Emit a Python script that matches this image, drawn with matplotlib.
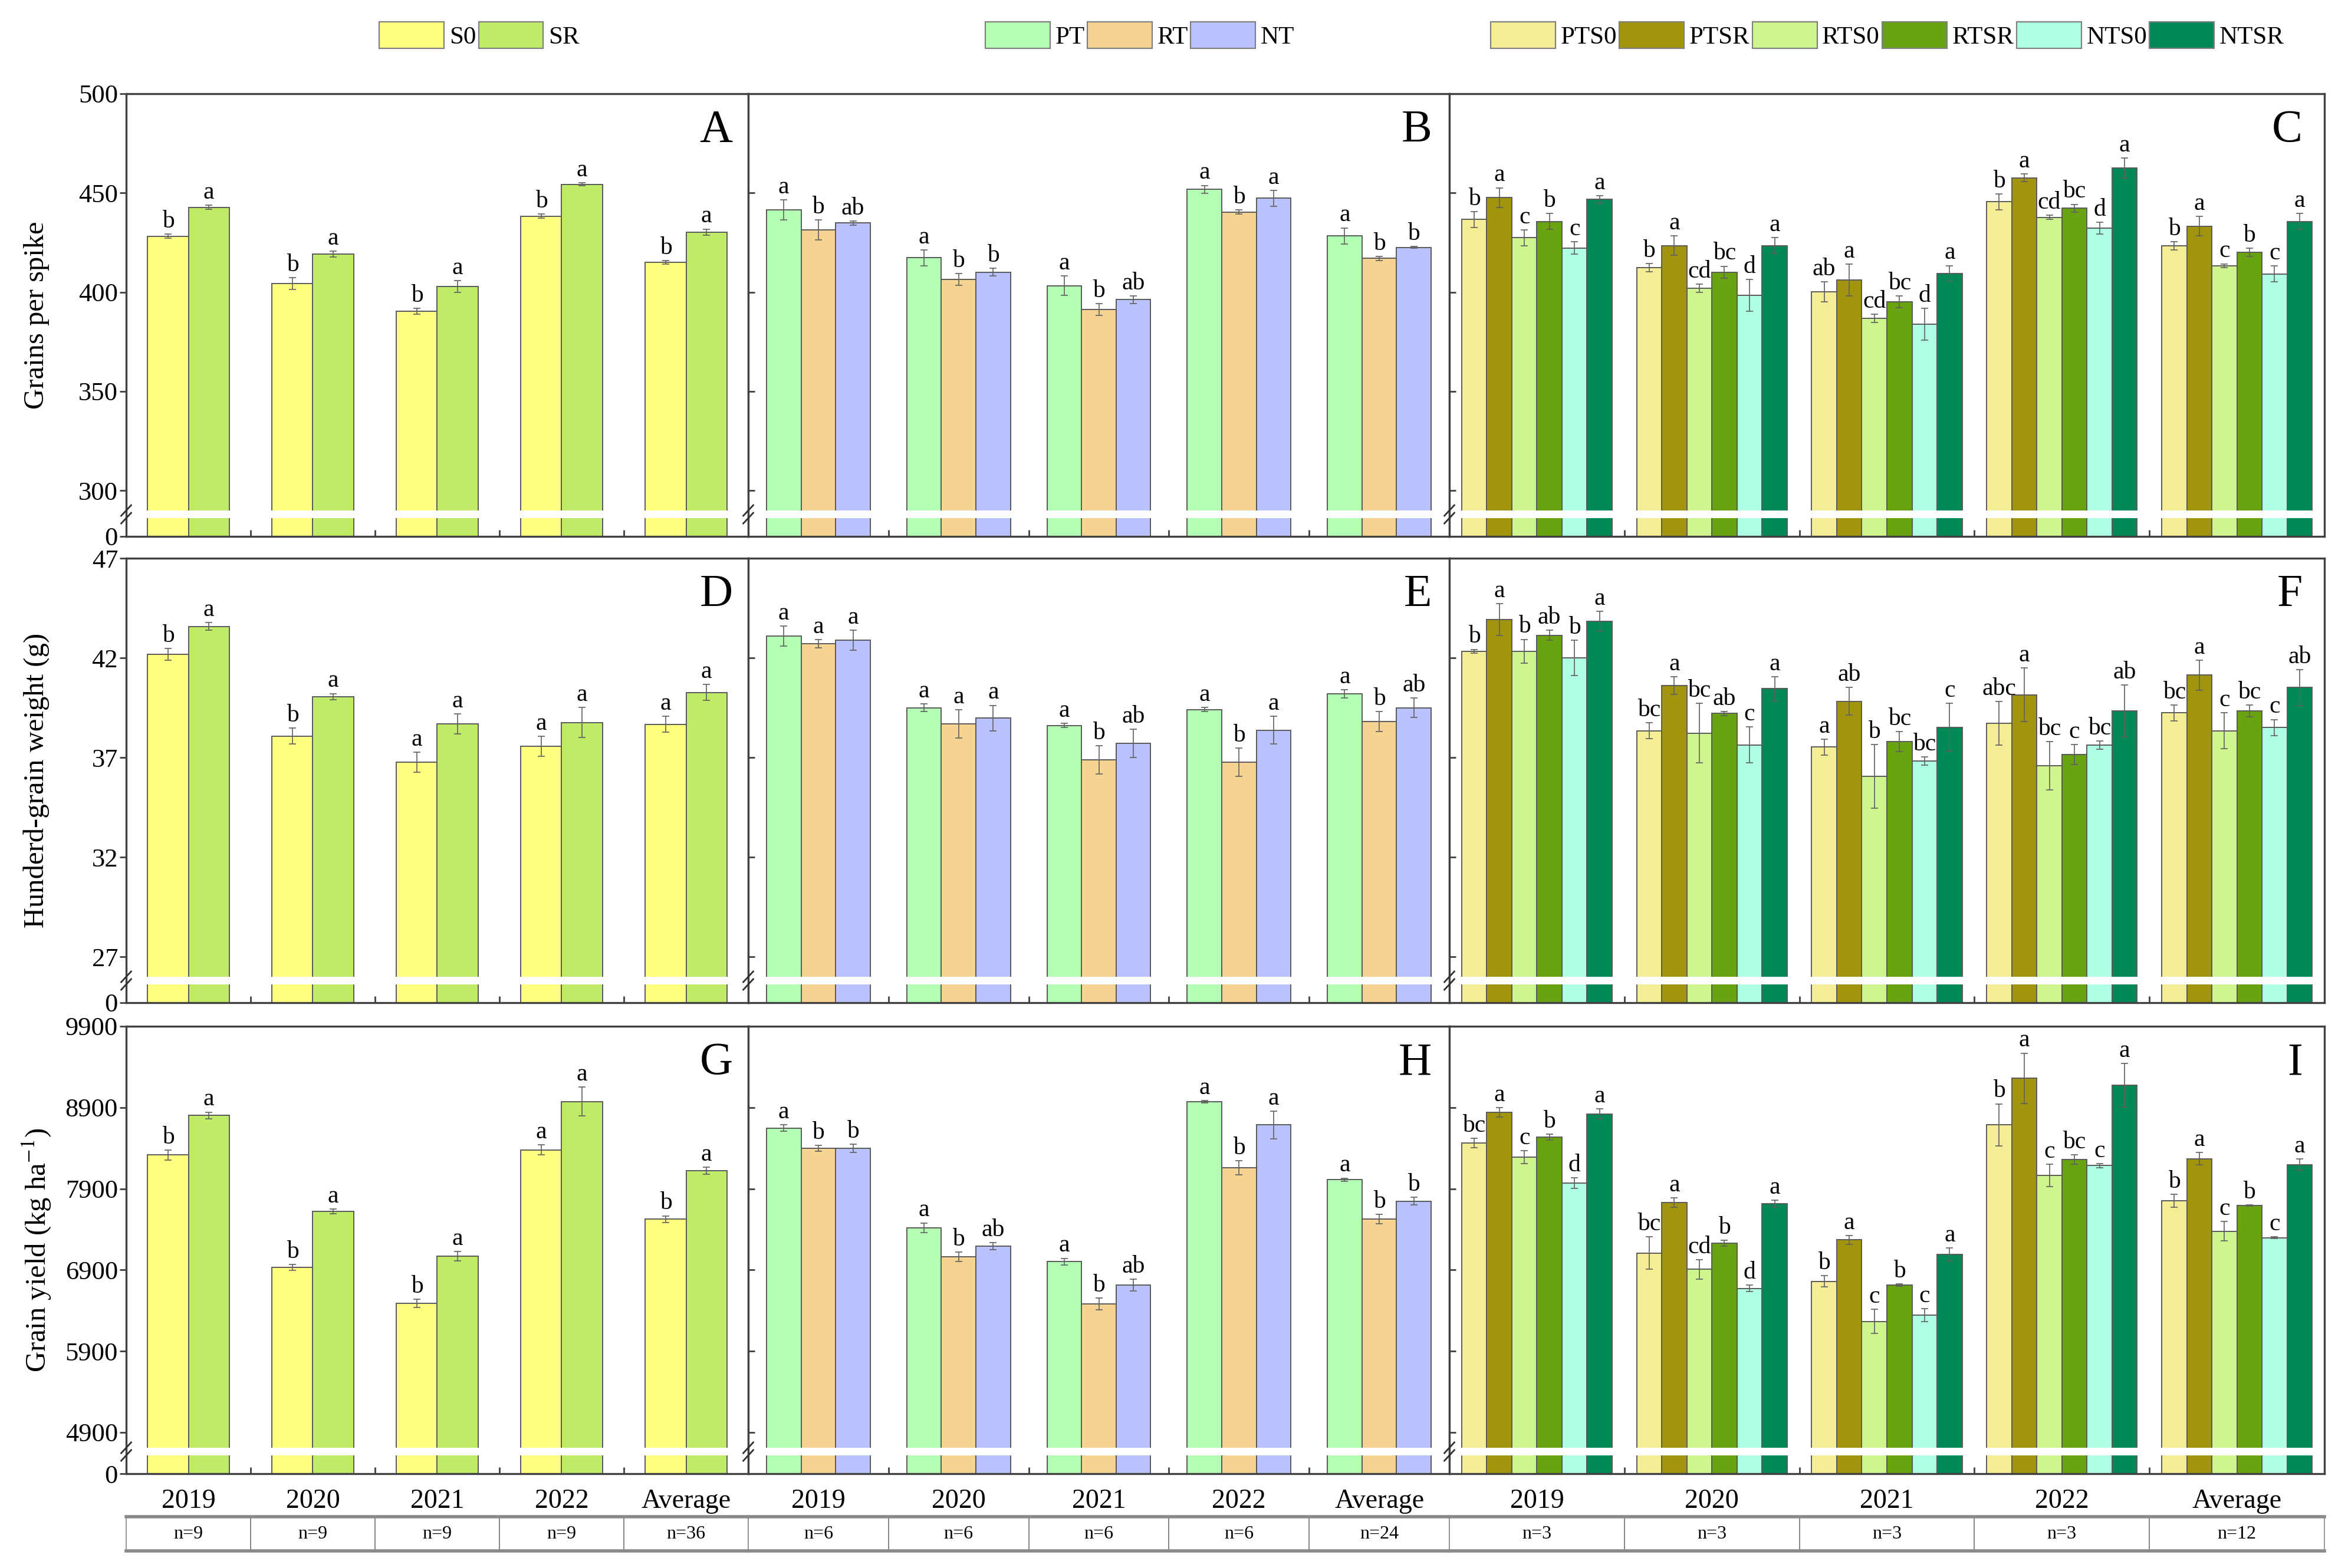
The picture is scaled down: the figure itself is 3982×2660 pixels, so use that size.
import numpy as np
import matplotlib.pyplot as plt
from matplotlib.patches import Patch

plt.rcParams['font.family'] = ['Liberation Serif', 'DejaVu Serif']
plt.rcParams['mathtext.fontset'] = 'stix'

years = ["2019", "2020", "2021", "2022", "Average"]
n_straw = ["n=9", "n=9", "n=9", "n=9", "n=36"]
n_till = ["n=6", "n=6", "n=6", "n=6", "n=24"]
n_combo = ["n=3", "n=3", "n=3", "n=3", "n=12"]

straw_names = ["S0", "SR"]
till_names = ["PT", "RT", "NT"]
combo_names = ["PTS0", "PTSR", "RTS0", "RTSR", "NTS0", "NTSR"]

straw_colors = ["#FFFF80", "#BFEB66"]
till_colors = ["#B3FFB3", "#F5D491", "#BAC2FF"]
combo_colors = ["#F5ED94", "#A39410", "#CFF58F", "#6AA312", "#AEFFE6", "#008957"]

# ---- grains per spike
gps_S0 = [428.2, 404.3, 390.4, 438.3, 415.0]
gps_SR = [442.8, 419.1, 402.9, 454.4, 430.3]
gps_S0_err = [1.0, 3.0, 1.5, 1.0, 0.8]
gps_SR_err = [1.0, 1.5, 3.0, 0.8, 1.5]
gps_S0_sig = ["b", "b", "b", "b", "b"]
gps_SR_sig = ["a", "a", "a", "a", "a"]

gps_PT = [441.4, 417.3, 403.3, 451.8, 428.4]
gps_RT = [431.4, 406.4, 391.3, 440.4, 417.0]
gps_NT = [434.9, 410.1, 396.2, 447.4, 422.6]
gps_PT_err = [5, 4, 5, 2, 4]
gps_RT_err = [5, 3, 3, 1, 1]
gps_NT_err = [1, 2, 2, 4, 0.5]
gps_PT_sig = ["a", "a", "a", "a", "a"]
gps_RT_sig = ["b", "b", "b", "b", "b"]
gps_NT_sig = ["ab", "b", "ab", "a", "b"]

gps_PTS0 = [436.7, 412.4, 400.1, 445.5, 423.3]
gps_PTSR = [447.6, 423.5, 406.2, 457.6, 433.3]
gps_RTS0 = [427.4, 402.0, 386.9, 437.7, 413.3]
gps_RTSR = [435.6, 410.1, 395.2, 442.3, 420.1]
gps_NTS0 = [422.3, 398.3, 383.9, 432.3, 409.2]
gps_NTSR = [446.7, 423.5, 409.4, 462.5, 435.6]
gps_PTS0_err = [4, 2, 5, 4, 2]
gps_PTSR_err = [5, 5, 8, 2, 5]
gps_RTS0_err = [4, 2, 2, 1, 1]
gps_RTSR_err = [4, 3, 3, 2, 2]
gps_NTS0_err = [3, 8, 8, 3, 4]
gps_NTSR_err = [2, 4, 4, 5, 4]
gps_PTS0_sig = ["b", "b", "ab", "b", "b"]
gps_PTSR_sig = ["a", "a", "a", "a", "a"]
gps_RTS0_sig = ["c", "cd", "cd", "cd", "c"]
gps_RTSR_sig = ["b", "bc", "bc", "bc", "b"]
gps_NTS0_sig = ["c", "d", "d", "d", "c"]
gps_NTSR_sig = ["a", "a", "a", "a", "a"]

# ---- hundred-grain weight
hgw_S0 = [42.17, 38.08, 36.77, 37.56, 38.66]
hgw_SR = [43.58, 40.06, 38.69, 38.76, 40.27]
hgw_S0_err = [0.3, 0.4, 0.5, 0.5, 0.4]
hgw_SR_err = [0.2, 0.15, 0.5, 0.75, 0.4]
hgw_S0_sig = ["b", "b", "a", "a", "a"]
hgw_SR_sig = ["a", "a", "a", "a", "a"]

hgw_PT = [43.10, 39.50, 38.61, 39.41, 40.19]
hgw_RT = [42.71, 38.69, 36.88, 36.77, 38.81]
hgw_NT = [42.89, 38.97, 37.71, 38.37, 39.50]
hgw_PT_err = [0.5, 0.2, 0.1, 0.1, 0.2]
hgw_RT_err = [0.2, 0.7, 0.7, 0.7, 0.5]
hgw_NT_err = [0.5, 0.65, 0.7, 0.7, 0.5]
hgw_PT_sig = ["a", "a", "a", "a", "a"]
hgw_RT_sig = ["a", "a", "b", "b", "b"]
hgw_NT_sig = ["a", "a", "ab", "a", "ab"]

hgw_PTS0 = [42.33, 38.34, 37.53, 38.72, 39.24]
hgw_PTSR = [43.93, 40.61, 39.82, 40.15, 41.13]
hgw_RTS0 = [42.33, 38.23, 36.05, 36.59, 38.34]
hgw_RTSR = [43.13, 39.21, 37.81, 37.14, 39.33]
hgw_NTS0 = [42.00, 37.63, 36.83, 37.63, 38.51]
hgw_NTSR = [43.84, 40.45, 38.52, 39.33, 40.52]
hgw_PTS0_err = [0.1, 0.4, 0.4, 1.1, 0.4]
hgw_PTSR_err = [0.8, 0.45, 0.7, 1.35, 0.75]
hgw_RTS0_err = [0.6, 1.5, 1.6, 1.2, 0.9]
hgw_RTSR_err = [0.25, 0.1, 0.5, 0.5, 0.3]
hgw_NTS0_err = [0.9, 0.9, 0.2, 0.2, 0.4]
hgw_NTSR_err = [0.5, 0.6, 1.2, 1.3, 0.9]
hgw_PTS0_sig = ["b", "bc", "a", "abc", "bc"]
hgw_PTSR_sig = ["a", "a", "ab", "a", "a"]
hgw_RTS0_sig = ["b", "bc", "b", "bc", "c"]
hgw_RTSR_sig = ["ab", "ab", "bc", "c", "bc"]
hgw_NTS0_sig = ["b", "c", "bc", "bc", "c"]
hgw_NTSR_sig = ["a", "a", "c", "ab", "ab"]

# ---- grain yield
gy_S0 = [8315, 6933, 6489, 8378, 7526]
gy_SR = [8804, 7619, 7070, 8974, 8122]
gy_S0_err = [60, 35, 50, 60, 40]
gy_SR_err = [40, 30, 60, 180, 40]
gy_S0_sig = ["b", "b", "b", "a", "b"]
gy_SR_sig = ["a", "a", "a", "a", "a"]

gy_PT = [8648, 7419, 7004, 8970, 8011]
gy_RT = [8400, 7063, 6481, 8159, 7526]
gy_NT = [8400, 7193, 6715, 8685, 7748]
gy_PT_err = [40, 60, 40, 15, 20]
gy_RT_err = [35, 60, 70, 85, 60]
gy_NT_err = [50, 40, 70, 170, 50]
gy_PT_sig = ["a", "a", "a", "a", "a"]
gy_RT_sig = ["b", "b", "b", "b", "b"]
gy_NT_sig = ["b", "ab", "ab", "a", "b"]

gy_PTS0 = [8463, 7107, 6759, 8685, 7752]
gy_PTSR = [8841, 7730, 7270, 9259, 8270]
gy_RTS0 = [8289, 6907, 6267, 8063, 7378]
gy_RTSR = [8537, 7230, 6715, 8259, 7693]
gy_NTS0 = [7970, 6674, 6341, 8185, 7296]
gy_NTSR = [8822, 7715, 7089, 9174, 8196]
gy_PTS0_err = [55, 200, 70, 260, 80]
gy_PTSR_err = [60, 55, 55, 310, 75]
gy_RTS0_err = [80, 120, 150, 140, 120]
gy_RTSR_err = [35, 35, 15, 60, 5]
gy_NTS0_err = [65, 40, 80, 25, 10]
gy_NTSR_err = [60, 45, 80, 270, 70]
gy_PTS0_sig = ["bc", "bc", "b", "b", "b"]
gy_PTSR_sig = ["a", "a", "a", "a", "a"]
gy_RTS0_sig = ["c", "cd", "c", "c", "c"]
gy_RTSR_sig = ["b", "b", "b", "bc", "b"]
gy_NTS0_sig = ["d", "d", "c", "c", "c"]
gy_NTSR_sig = ["a", "a", "a", "a", "a"]

row_ylabels = ["Grains per spike", "Hunderd-grain weight (g)", "Grain yield (kg ha$^{-1}$)"]
row_ticks = [[0, 300, 350, 400, 450, 500],
             [0, 27, 32, 37, 42, 47],
             [0, 4900, 5900, 6900, 7900, 8900, 9900]]
row_break = [290, 26, 4711]     # value where the upper (linear) part starts
row_top = [500, 47, 9900]
panel_letters = [["A", "B", "C"], ["D", "E", "F"], ["G", "H", "I"]]

panels = [
    [([gps_S0, gps_SR], [gps_S0_err, gps_SR_err], [gps_S0_sig, gps_SR_sig]),
     ([gps_PT, gps_RT, gps_NT], [gps_PT_err, gps_RT_err, gps_NT_err], [gps_PT_sig, gps_RT_sig, gps_NT_sig]),
     ([gps_PTS0, gps_PTSR, gps_RTS0, gps_RTSR, gps_NTS0, gps_NTSR],
      [gps_PTS0_err, gps_PTSR_err, gps_RTS0_err, gps_RTSR_err, gps_NTS0_err, gps_NTSR_err],
      [gps_PTS0_sig, gps_PTSR_sig, gps_RTS0_sig, gps_RTSR_sig, gps_NTS0_sig, gps_NTSR_sig])],
    [([hgw_S0, hgw_SR], [hgw_S0_err, hgw_SR_err], [hgw_S0_sig, hgw_SR_sig]),
     ([hgw_PT, hgw_RT, hgw_NT], [hgw_PT_err, hgw_RT_err, hgw_NT_err], [hgw_PT_sig, hgw_RT_sig, hgw_NT_sig]),
     ([hgw_PTS0, hgw_PTSR, hgw_RTS0, hgw_RTSR, hgw_NTS0, hgw_NTSR],
      [hgw_PTS0_err, hgw_PTSR_err, hgw_RTS0_err, hgw_RTSR_err, hgw_NTS0_err, hgw_NTSR_err],
      [hgw_PTS0_sig, hgw_PTSR_sig, hgw_RTS0_sig, hgw_RTSR_sig, hgw_NTS0_sig, hgw_NTSR_sig])],
    [([gy_S0, gy_SR], [gy_S0_err, gy_SR_err], [gy_S0_sig, gy_SR_sig]),
     ([gy_PT, gy_RT, gy_NT], [gy_PT_err, gy_RT_err, gy_NT_err], [gy_PT_sig, gy_RT_sig, gy_NT_sig]),
     ([gy_PTS0, gy_PTSR, gy_RTS0, gy_RTSR, gy_NTS0, gy_NTSR],
      [gy_PTS0_err, gy_PTSR_err, gy_RTS0_err, gy_RTSR_err, gy_NTS0_err, gy_NTSR_err],
      [gy_PTS0_sig, gy_PTSR_sig, gy_RTS0_sig, gy_RTSR_sig, gy_NTS0_sig, gy_NTSR_sig])],
]
col_colors = [straw_colors, till_colors, combo_colors]
col_names = [straw_names, till_names, combo_names]
col_n = [n_straw, n_till, n_combo]
col_group_span = [0.655, 0.74, 0.86]

# layout in pixels of the 3982 x 2660 canvas
W, H = 3982, 2660
col_x = [(214, 1269), (1269, 2458), (2458, 3942)]
row_y = [(159, 910), (947, 1701), (1741, 2500)]
table_y = (2573, 2631)
legend_cx = [813, 1933, 3201]
LOW_PX, GAP_PX = 31, 13
EDGE = "#5a5a5a"


def broken_scale(brk, top, height_px):
    low_top = brk * 0.5
    up_px = height_px - LOW_PX - GAP_PX
    vs = np.array([0.0, low_top, brk, top])
    us = np.array([0.0, LOW_PX, LOW_PX + GAP_PX, height_px])
    s_lo = LOW_PX / low_top
    s_hi = up_px / (top - brk)

    def fwd(v):
        v = np.asarray(v, dtype=float)
        out = np.interp(v, vs, us)
        out = np.where(v < 0, v * s_lo, out)
        out = np.where(v > top, height_px + (v - top) * s_hi, out)
        return out

    def inv(u):
        u = np.asarray(u, dtype=float)
        out = np.interp(u, us, vs)
        out = np.where(u < 0, u / s_lo, out)
        out = np.where(u > height_px, top + (u - height_px) / s_hi, out)
        return out

    return fwd, inv, low_top


fig = plt.figure(figsize=(W / 200, H / 200), dpi=200)

for r in range(3):
    y0, y1 = row_y[r]
    hpx = y1 - y0
    fwd, inv, low_top = broken_scale(row_break[r], row_top[r], hpx)
    for c in range(3):
        x0, x1 = col_x[c]
        ax = fig.add_axes([x0 / W, 1 - y1 / H, (x1 - x0) / W, hpx / H])
        ax.set_yscale('function', functions=(fwd, inv))
        vals, errs, sigs = panels[r][c]
        nser = len(vals)
        bw = col_group_span[c] / nser
        centers = np.arange(len(years)) + 0.5
        for k in range(nser):
            xs = centers - col_group_span[c] / 2 + bw * (k + 0.5)
            ax.bar(xs, vals[k], width=bw, color=col_colors[c][k], edgecolor=EDGE,
                   linewidth=0.7, zorder=1)
            ax.errorbar(xs, vals[k], yerr=errs[k], fmt='none', ecolor='#606060',
                        elinewidth=0.6, capsize=2.2, capthick=0.6, zorder=2)
            for xi, v, e, s in zip(xs, vals[k], errs[k], sigs[k]):
                ax.annotate(s, (xi, v + e), xytext=(0, 4), textcoords='offset points',
                            ha='center', va='baseline', fontsize=15, zorder=3)
        ax.axhspan(low_top, row_break[r], color='white', zorder=1.5, lw=0)
        ax.set_xlim(0, len(years))
        ax.set_ylim(0, row_top[r])
        ax.set_yticks(row_ticks[r])
        ax.set_yticklabels([str(t) for t in row_ticks[r]])
        ax.set_xticks(centers)
        ax.set_xticks(np.arange(1, len(years)), minor=True)
        ax.tick_params(axis='x', which='major', length=0, pad=9, labelsize=16.5)
        ax.tick_params(axis='x', which='minor', direction='in', length=4, width=1, color='#404040')
        if r < 2:
            ax.tick_params(axis='x', labelbottom=False)
        else:
            ax.set_xticklabels(years)
        ax.yaxis.set_minor_locator(plt.NullLocator())
        if c == 0:
            ax.tick_params(axis='y', direction='out', length=4, width=1, pad=1,
                           labelsize=16, color='#404040')
        else:
            ax.tick_params(axis='y', direction='in', length=4, width=1, labelleft=False,
                           color='#404040')
        for sp in ax.spines.values():
            sp.set_color('#404040')
            sp.set_linewidth(1.2)
        # break marks on the left spine
        yc = fwd(low_top)[()] / hpx
        yd = fwd(row_break[r])[()] / hpx
        for yy in (yc, yd):
            ax.plot([-0.008 * 1055 / (x1 - x0), 0.008 * 1055 / (x1 - x0)],
                    [yy - 0.012, yy + 0.012], transform=ax.transAxes,
                    color='#303030', lw=1.0, clip_on=False, zorder=5)
        ax.text(0.975, 0.965, panel_letters[r][c], transform=ax.transAxes,
                ha='right', va='top', fontsize=28)
        if c == 0:
            fig.text(62 / W, 1 - (y0 + y1) / 2 / H, row_ylabels[r], rotation=90,
                     ha='center', va='center', fontsize=17.5)

# n= table under each column
for c in range(3):
    x0, x1 = col_x[c]
    tax = fig.add_axes([x0 / W, 1 - table_y[1] / H, (x1 - x0) / W, (table_y[1] - table_y[0]) / H])
    tax.set_xlim(0, len(years))
    tax.set_ylim(0, 1)
    tax.set_xticks([])
    tax.set_yticks([])
    for b in range(1, len(years)):
        tax.axvline(b, color='#707070', lw=0.6)
    for name, sp in tax.spines.items():
        sp.set_color('#8a8a8a')
        sp.set_linewidth(2.0 if name in ('top', 'bottom') else 0.6)
    for i, lab in enumerate(col_n[c]):
        tax.text(i + 0.5, 0.5, lab, ha='center', va='center', fontsize=11.5)

# legends
for c in range(3):
    handles = [Patch(facecolor=col_colors[c][k], edgecolor='#808080', linewidth=0.8)
               for k in range(len(col_names[c]))]
    fig.legend(handles, col_names[c], loc='center', bbox_to_anchor=(legend_cx[c] / W, 1 - 60 / H),
               ncol=len(handles), frameon=False, fontsize=15.5, handlelength=2.55,
               handleheight=1.25, handletextpad=0.2, columnspacing=0.1, borderaxespad=0)

fig.savefig("out.png", dpi=200)
